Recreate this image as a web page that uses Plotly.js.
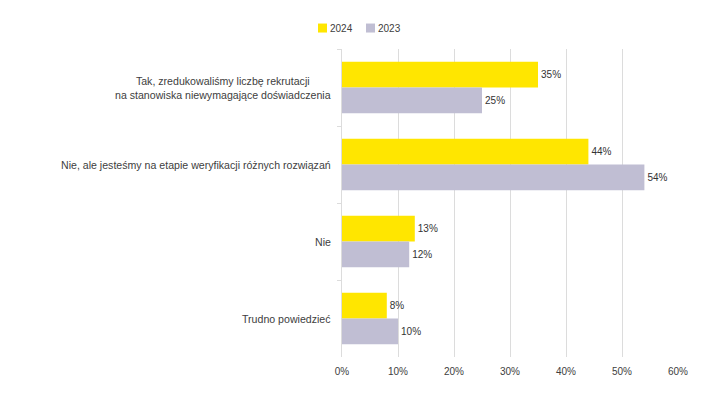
<!DOCTYPE html>
<html>
<head>
<meta charset="utf-8">
<script src="https://cdn.plot.ly/plotly-3.0.1.min.js"></script>
<style>html,body{margin:0;padding:0;background:#fff;}#chart{width:720px;height:405px;}</style>
</head>
<body>
<div id="chart"></div>
<script>
var categories = [
  "Tak, zredukowaliśmy liczbę rekrutacji<br>na stanowiska niewymagające doświadczenia",
  "Nie, ale jesteśmy na etapie weryfikacji różnych rozwiązań",
  "Nie",
  "Trudno powiedzieć"
];
var seriesNames = ["2024", "2023"];
var values2024 = [35, 44, 13, 8];
var values2023 = [25, 54, 12, 10];
var seriesColors = ["#FFE600", "#C0BED3"];
var xTicks = [0, 10, 20, 30, 40, 50, 60];

var font = "Liberation Sans, Arial, sans-serif";
var textColor = "#404040";

function makeTrace(name, vals, color) {
  return {
    type: "bar", orientation: "h", name: name,
    y: categories, x: vals,
    marker: {color: color},
    text: vals.map(function(v){return v + "%";}),
    textposition: "outside", cliponaxis: false,
    textfont: {family: font, size: 10, color: "#333"},
    hoverinfo: "skip"
  };
}
var data = [
  makeTrace(seriesNames[0], values2024, seriesColors[0]),
  makeTrace(seriesNames[1], values2023, seriesColors[1])
];

// pixel helpers for plot area (l=342, r=678, t=49, b=357.5)
function px(X){return (X - 342) / 336;}
function py(Y){return (357.5 - Y) / 308.5;}

var annotations = categories.map(function(c){
  return {xref: "paper", yref: "y", x: 0, y: c, xanchor: "right", xshift: -9,
    align: "center", showarrow: false, text: c,
    font: {family: font, size: 10.6, color: textColor}};
});
var shapes = [];
var legX = [318, 366];
seriesNames.forEach(function(n, i){
  shapes.push({type: "rect", xref: "paper", yref: "paper",
    x0: px(legX[i]), x1: px(legX[i] + 9), y0: py(32.5), y1: py(23.5),
    fillcolor: seriesColors[i], line: {width: 0}});
  annotations.push({xref: "paper", yref: "paper", x: px(legX[i] + 10), y: py(28),
    xanchor: "left", yanchor: "middle", showarrow: false, text: n,
    font: {family: font, size: 10, color: textColor}});
});

var layout = {
  width: 720, height: 405,
  margin: {l: 342, r: 42, t: 49, b: 47.5},
  paper_bgcolor: "#fff", plot_bgcolor: "#fff",
  showlegend: false,
  barmode: "group", bargap: 0.333, bargroupgap: 0,
  font: {family: font, size: 10, color: textColor},
  xaxis: {
    range: [0, 60], tickvals: xTicks, ticktext: xTicks.map(function(v){return v + "%";}),
    showgrid: true, gridcolor: "#DCDCDC", gridwidth: 1,
    zeroline: false, showline: false, ticks: "", ticklabelstandoff: 7,
    tickfont: {family: font, size: 10, color: textColor}, fixedrange: true
  },
  yaxis: {
    type: "category", range: [3.5, -0.5], autorange: false,
    showticklabels: false, showgrid: false, zeroline: false,
    showline: true, linecolor: "#DCDCDC", linewidth: 1,
    ticks: "outside", tickson: "boundaries", ticklen: 4, tickcolor: "#DCDCDC",
    fixedrange: true
  },
  annotations: annotations,
  shapes: shapes
};
Plotly.newPlot("chart", data, layout, {displayModeBar: false, staticPlot: true});
</script>
</body>
</html>
